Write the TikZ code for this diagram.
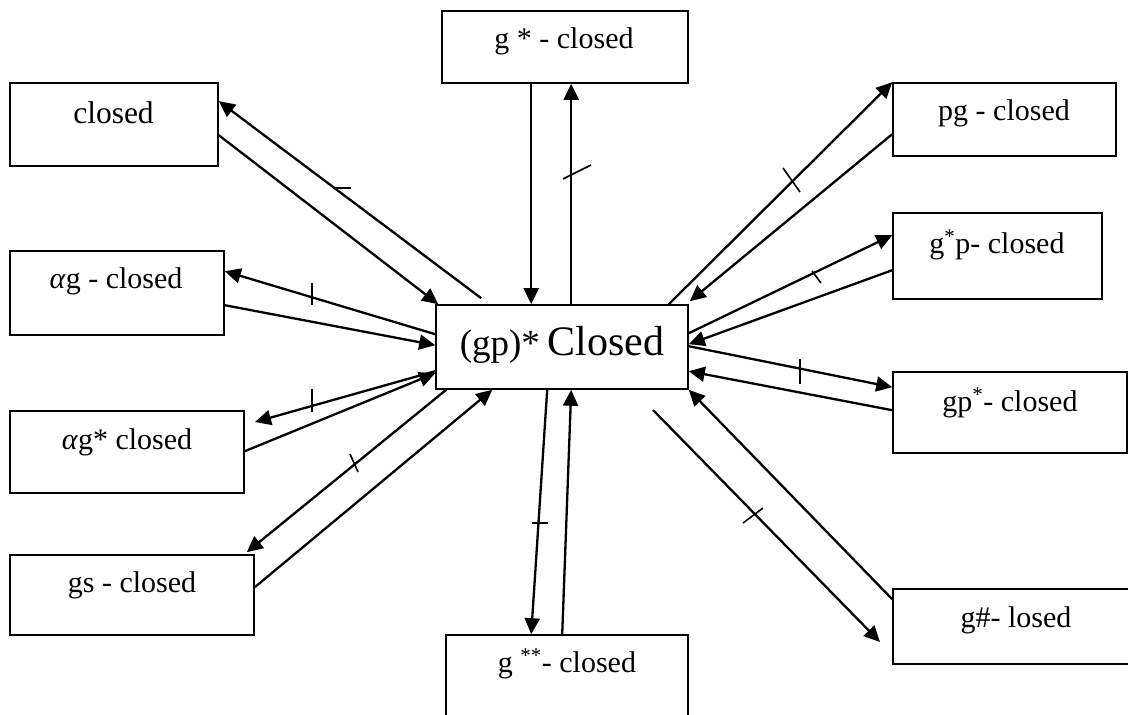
\documentclass[tikz,border=0pt]{standalone}
\usepackage{fontspec}
\setmainfont{Liberation Serif}
\usetikzlibrary{calc,arrows.meta}

\begin{document}
\begin{tikzpicture}[x=1pt, y=-1pt,
        box/.style={draw, line width=1.6pt, inner sep=0pt},
        lbl/.style={anchor=base, inner sep=0pt, font=\fontsize{30}{36}\selectfont},
        arr/.style={line width=2.3pt, -{Triangle[length=16pt,width=15pt]}},
        tick/.style={line width=1.6pt}]

        \clip (0,0) rectangle (1128,715);

        %KOTAK
        \node[box, minimum width=208, minimum height=83] (cl) at (114,124.5) {};
        \node[box, minimum width=214, minimum height=84] (ag) at (117,293) {};
        \node[box, minimum width=234, minimum height=82] (ags) at (127,452) {};
        \node[box, minimum width=244, minimum height=80] (gs) at (132,595) {};
        \node[box, minimum width=246, minimum height=72] (gst) at (565,47) {};
        \node[box, minimum width=252, minimum height=84] (gp) at (562,347) {};
        \node[box, minimum width=242, minimum height=125] (gss) at (567,697.5) {};
        \node[box, minimum width=223, minimum height=73] (pg) at (1004.5,119.5) {};
        \node[box, minimum width=209, minimum height=86] (gsp) at (997.5,256) {};
        \node[box, minimum width=234, minimum height=81] (gps) at (1010,412.5) {};
        \node[box, minimum width=247, minimum height=75] (gh) at (1016.5,626.5) {};

        %TEKS
        \node[lbl, font=\fontsize{31.5}{36}\selectfont] (cl-t) at (113.5,123) {closed};
        \node[lbl] (ag-t) at (116,288) {\textit{α}g - closed};
        \node[lbl] (ags-t) at (127,449) {\textit{α}g* closed};
        \node[lbl] (gs-t) at (132,592) {gs - closed};
        \node[lbl] (gst-t) at (564,48) {g * - closed};
        \node[lbl] (gp-t) at (562,355) {{\fontsize{37}{40}\selectfont (gp)*} {\fontsize{42}{46}\selectfont Closed}};
        \node[lbl] (gss-t) at (567,672) {g \textsuperscript{**}- closed};
        \node[lbl] (pg-t) at (1004,120) {pg - closed};
        \node[lbl] (gsp-t) at (997,253) {g\textsuperscript{*}p- closed};
        \node[lbl] (gps-t) at (1010,411) {gp\textsuperscript{*}- closed};
        \node[lbl] (gh-t) at (1016,627) {g\#- losed};

        %UJUNG BEBAS
        \coordinate (ags-e) at (255,422);
        \coordinate (gh-s) at (653,410);
        \coordinate (gh-e) at (880,642);

        %PANAH
        \draw[arr] ($(gp.north west)+(46,-6)$) -- ($(cl.north east)+(0,19)$);
        \draw[arr] ($(cl.north east)+(0,53)$) -- ($(gp.north west)+(3,0)$);

        \draw[arr] ($(gp.north west)+(0,30)$) -- ($(ag.north east)+(0,21)$);
        \draw[arr] ($(ag.north east)+(0,55)$) -- ($(gp.north west)+(0,41)$);

        \draw[arr] ($(gp.north west)+(0,67)$) -- (ags-e);
        \draw[arr] ($(ags.north east)+(0,41)$) -- ($(gp.north west)+(0,69)$);

        \draw[arr] ($(gp.south west)+(11,0)$) -- ($(gs.north east)+(-8,-2)$);
        \draw[arr] ($(gs.north east)+(0,33)$) -- ($(gp.south west)+(57,0)$);

        \draw[arr] ($(gst.south west)+(90,0)$) -- ($(gp.north west)+(96,0)$);
        \draw[arr] ($(gp.north west)+(136,0)$) -- ($(gst.south west)+(130,0)$);

        \draw[arr] ($(gp.north east)+(-20,0)$) -- (pg.north west);
        \draw[arr] ($(pg.north west)+(0,52)$) -- ($(gp.north east)+(1,-3)$);

        \draw[arr] ($(gp.north east)+(0,29)$) -- ($(gsp.north west)+(0,23)$);
        \draw[arr] ($(gsp.north west)+(0,58)$) -- ($(gp.north east)+(0,40)$);

        \draw[arr] ($(gp.north east)+(0,42)$) -- ($(gps.north west)+(0,16)$);
        \draw[arr] ($(gps.north west)+(0,39)$) -- ($(gp.north east)+(0,67)$);

        \draw[arr] (gh-s) -- (gh-e);
        \draw[arr] ($(gh.north west)+(0,11)$) -- (gp.south east);

        \draw[arr] ($(gp.south west)+(112,0)$) -- ($(gss.north west)+(86,0)$);
        \draw[arr] ($(gss.north west)+(117,0)$) -- ($(gp.south west)+(136,0)$);

        %CORETAN
        \draw[tick] (333,188) -- (351,188);
        \draw[tick] (312,283) -- (312,305);
        \draw[tick] (312,389) -- (312,412);
        \draw[tick] (350,454) -- (358,472);
        \draw[tick] (563,179) -- (591,165);
        \draw[tick] (783,168) -- (800,192);
        \draw[tick] (812,271) -- (821,283);
        \draw[tick] (800,359) -- (800,384);
        \draw[tick] (743,523) -- (763,508);
        \draw[tick] (532,523) -- (548,523);
\end{tikzpicture}
\end{document}
